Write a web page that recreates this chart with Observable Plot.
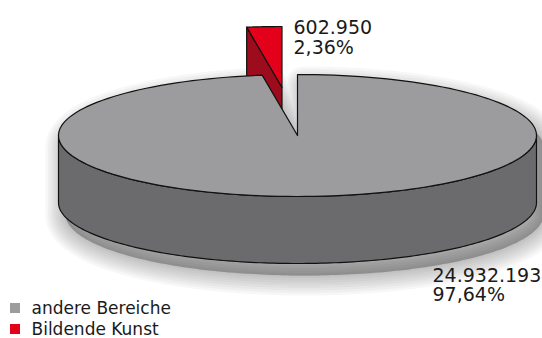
<!DOCTYPE html>
<html><head><meta charset="utf-8">
<script src="https://cdn.jsdelivr.net/npm/d3@7"></script>
<script src="https://cdn.jsdelivr.net/npm/@observablehq/plot@0.6"></script>
<style>body{margin:0;background:#fff}</style>
</head><body><div id="chart"></div>
<script>
const categories = ["andere Bereiche", "Bildende Kunst"];
const values = [24932193, 602950];
const topColors = ["#9c9c9e", "#e2001a"];
const sideColors = ["#6b6b6d", "#9d0c1d"];

const W = 542, H = 338;
const cx = 297, cy = 135, rx = 239, ry = 61, depth = 67;
const explodeOffset = [{dx: 0, dy: 0}, {dx: -15.5, dy: -48}];
const shadowOffset = {dx: 7, dy: 12};

const total = d3.sum(values);
const de = d3.formatLocale({decimal: ",", thousands: ".", grouping: [3], currency: ["", "€"]});
const fmtN = de.format(",d"), fmtP = de.format(".2%");

// angles clockwise from 12 o'clock; the small slice sits counterclockwise of 12
const smallAngle = values[1] / total * 2 * Math.PI;
const slices = [
  {i: 0, a0: 0, a1: 2 * Math.PI - smallAngle},
  {i: 1, a0: -smallAngle, a1: 0}
].map(s => ({...s, ox: explodeOffset[s.i].dx, oy: explodeOffset[s.i].dy}));

const pt = (s, a, z = 0) => ({x: cx + s.ox + rx * Math.sin(a), y: cy + s.oy - ry * Math.cos(a) + z});
const ctr = (s, z = 0) => ({x: cx + s.ox, y: cy + s.oy + z});
function arc(s, a0, a1, z = 0, n = 160) {
  const p = [];
  for (let k = 0; k <= n; k++) p.push(pt(s, a0 + (a1 - a0) * k / n, z));
  return p;
}

const polys = [];
for (const s of [slices[1], slices[0]]) { // back slice first
  const faces = [];
  if (Math.sin(s.a0) < -1e-9) faces.push({pts: [ctr(s), pt(s, s.a0), pt(s, s.a0, depth), ctr(s, depth)], fill: sideColors[s.i]});
  if (Math.sin(s.a1) > 1e-9) faces.push({pts: [ctr(s), pt(s, s.a1), pt(s, s.a1, depth), ctr(s, depth)], fill: sideColors[s.i]});
  for (const shift of [0, -2 * Math.PI, 2 * Math.PI]) {
    const lo = Math.max(s.a0, Math.PI / 2 + shift), hi = Math.min(s.a1, 3 * Math.PI / 2 + shift);
    if (hi > lo) faces.push({pts: [...arc(s, lo, hi), ...arc(s, hi, lo, depth)], fill: sideColors[s.i]});
  }
  faces.push({pts: [ctr(s), ...arc(s, s.a0, s.a1)], fill: topColors[s.i]});
  for (const f of faces) { f.pts.push(f.pts[0]); polys.push(f); }
}
// outline of the large slice (for the soft drop shadow)
const g0 = slices[0];
const silhouette = [ctr(g0), ...arc(g0, g0.a0, Math.PI / 2), ...arc(g0, Math.PI / 2, 3 * Math.PI / 2, depth), ...arc(g0, 3 * Math.PI / 2, g0.a1), ctr(g0)];
const shadowLayers = [40, 35, 30, 25, 20, 15, 10, 5, 1];
const shadowPts = silhouette.map(d => ({x: d.x + shadowOffset.dx, y: d.y + shadowOffset.dy}));

const marks = [
  ...shadowLayers.map(w => Plot.line(shadowPts, {x: "x", y: "y", fill: "#000", fillOpacity: 0.03, stroke: "#000", strokeOpacity: 0.03, strokeWidth: w, strokeLinejoin: "round"})),
  ...polys.map(p => Plot.line(p.pts, {x: "x", y: "y", fill: p.fill, stroke: "#111", strokeWidth: 1.2, strokeLinejoin: "round"})),
  Plot.text([`${fmtN(values[1])}\n${fmtP(values[1] / total)}`], {x: cx - 4, y: cy + explodeOffset[1].dy - ry - 6.5, text: d => d, textAnchor: "start", lineAnchor: "top", lineHeight: 1.05, fontSize: 19, fill: "#1a1a1a", fontFamily: "DejaVu Sans"}),
  Plot.text([`${fmtN(values[0])}\n${fmtP(values[0] / total)}`], {x: cx + 135, y: cy + ry + depth + 4, text: d => d, textAnchor: "start", lineAnchor: "top", lineHeight: 1.04, fontSize: 19, fill: "#1a1a1a", fontFamily: "DejaVu Sans"}),
  Plot.rect(categories, {x1: 10, x2: 20, y1: (d, i) => 303 + 21 * i, y2: (d, i) => 313 + 21 * i, fill: (d, i) => topColors[i]}),
  Plot.text(categories, {x: 31, y: (d, i) => 307.8 + 21 * i, text: d => d, textAnchor: "start", fontSize: 17, fill: "#1a1a1a", fontFamily: "DejaVu Sans"})
];

const chart = Plot.plot({
  width: W, height: H,
  margin: 0,
  x: {type: "identity", axis: null},
  y: {type: "identity", axis: null},
  style: {background: "#fff"},
  marks
});
document.getElementById("chart").appendChild(chart);
</script>
</body></html>
